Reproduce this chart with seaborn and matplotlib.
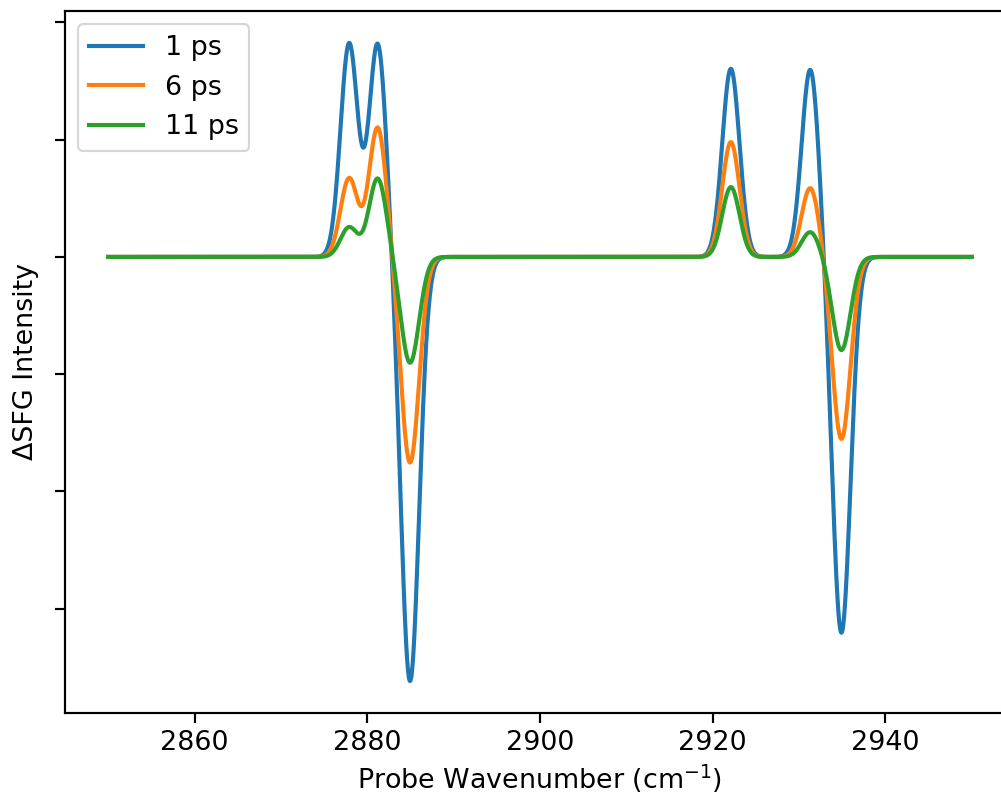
import numpy as np
import pandas as pd
import matplotlib
matplotlib.use("Agg")
import matplotlib.pyplot as plt
import seaborn as sns

# ---- data (peak model of the difference spectra) ----
delays = ["1 ps", "6 ps", "11 ps"]
colors = ["#1f77b4", "#ff7f0e", "#2ca02c"]
peak_centers = [2877.9, 2881.2, 2884.95, 2922.1, 2931.3, 2934.9]   # cm^-1
peak_widths = [1.0, 1.0, 1.05, 1.0, 1.0, 1.05]                      # cm^-1 (sigma)
amp_1ps = [1.818, 1.818, -3.62, 1.605, 1.605, -3.208]
amp_6ps = [0.670, 1.105, -1.755, 0.980, 0.591, -1.553]
amp_11ps = [0.253, 0.670, -0.903, 0.596, 0.213, -0.795]
amplitudes = [amp_1ps, amp_6ps, amp_11ps]
x_start, x_stop = 2850, 2950
x_ticks = [2860, 2880, 2900, 2920, 2940]
y_ticks = [-3, -2, -1, 0, 1, 2]

wn = np.linspace(x_start, x_stop, 2001)
frames = []
for name, amps in zip(delays, amplitudes):
    y = np.zeros_like(wn)
    for c, w, a in zip(peak_centers, peak_widths, amps):
        y += a * np.exp(-((wn - c) ** 2) / (2 * w ** 2))
    frames.append(pd.DataFrame({"wn": wn, "signal": y, "delay": name}))
df = pd.concat(frames, ignore_index=True)

plt.rcParams["font.size"] = 12.4
plt.rcParams["axes.linewidth"] = 1.0
plt.rcParams["xtick.major.width"] = 1.0
plt.rcParams["ytick.major.width"] = 1.0
plt.rcParams["xtick.major.size"] = 4.4
plt.rcParams["ytick.major.size"] = 4.4

dpi = 156.4
fig = plt.figure(figsize=(1001 / dpi, 794 / dpi), dpi=dpi)
W, H = 1001, 794
ax = fig.add_axes([65 / W, 1 - 713 / H, (1015 - 65) / W, (713 - 11) / H])

for name, col in zip(delays, colors):
    sub = df[df["delay"] == name]
    sns.lineplot(data=sub, x="wn", y="signal", color=col, label=name,
                 linewidth=1.9, ax=ax, estimator=None, sort=False)

ax.set_xticks(x_ticks)
ax.set_yticks(y_ticks)
ax.set_yticklabels([])
ax.set_xlabel("Probe Wavenumber (cm$^{-1}$)", labelpad=3)
ax.set_ylabel("ΔSFG Intensity")
ax.spines["right"].set_visible(False)
ax.legend(loc="upper left")

fig.savefig("out.png", dpi=dpi)
